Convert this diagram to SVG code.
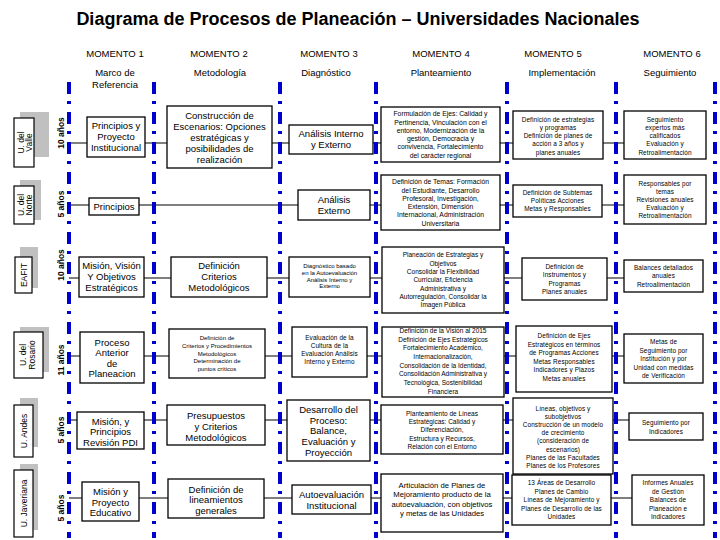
<svg xmlns="http://www.w3.org/2000/svg" width="720" height="540" viewBox="0 0 720 540">
<style>
text{font-family:"Liberation Sans",Arial,sans-serif;fill:#000}
.title{font-size:18px;font-weight:bold;text-anchor:middle}
.hd{font-size:9.5px;text-anchor:middle}
.n rect{fill:#fff;stroke:#000;stroke-width:1.3}
.n text{text-anchor:middle}
.f9{font-size:9.5px}
.f8{font-size:7.7px}
.f7{font-size:6.8px}
.f65{font-size:6.5px}
.f6{font-size:6.4px;letter-spacing:0.1px}
.f5{font-size:6px}
.lab rect.sh{fill:#c0c0c0;stroke:none}
.lab rect.bx{fill:#fff;stroke:#000;stroke-width:1.2}
.lab text{font-size:8.5px;text-anchor:middle}
.yr{font-size:6px;font-weight:bold;text-anchor:middle}
.bl{stroke:#0000cc;stroke-width:4;stroke-dasharray:12 7 3 8;fill:none}
.cn line{stroke:#000;stroke-width:1.2}
</style>
<rect width="720" height="540" fill="#fff"/>
<text class="title" x="358" y="25">Diagrama de Procesos de Planeación – Universidades Nacionales</text>

<g id="headers" class="hd">
<text x="115" y="57">MOMENTO 1</text>
<text x="115" y="76">Marco de</text>
<text x="115" y="88">Referencia</text>
<text x="219" y="57">MOMENTO 2</text>
<text x="220" y="76">Metodología</text>
<text x="329" y="57">MOMENTO 3</text>
<text x="326" y="76">Diagnóstico</text>
<text x="441" y="57">MOMENTO 4</text>
<text x="441" y="76">Planteamiento</text>
<text x="553" y="57">MOMENTO 5</text>
<text x="562" y="76">Implementación</text>
<text x="672" y="57">MOMENTO 6</text>
<text x="670" y="76">Seguimiento</text>
</g>

<g id="connectors" class="cn">
<line x1="69" y1="143" x2="624" y2="143"/>
<line x1="69" y1="205" x2="624" y2="205"/>
<line x1="69" y1="278" x2="624" y2="278"/>
<line x1="69" y1="356" x2="624" y2="356"/>
<line x1="69" y1="420" x2="629" y2="420"/>
<line x1="69" y1="498" x2="632" y2="498"/>
</g>

<g id="dividers">
<line class="bl" x1="69" y1="82" x2="69" y2="538"/>
<line class="bl" x1="154" y1="82" x2="154" y2="538"/>
<line class="bl" x1="280" y1="82" x2="280" y2="538"/>
<line class="bl" x1="376" y1="82" x2="376" y2="538"/>
<line class="bl" x1="507" y1="82" x2="507" y2="538"/>
<line class="bl" x1="616" y1="82" x2="616" y2="538"/>
<line class="bl" x1="715" y1="82" x2="715" y2="538"/>
</g>

<g id="lab-valle" class="lab">
<rect class="sh" x="20" y="112" width="29" height="45"/>
<rect class="bx" x="14" y="118" width="20" height="49"/>
<text transform="rotate(-90 23.5 142.5)" x="23.5" y="142.5">U. del</text>
<text transform="rotate(-90 31.5 142.5)" x="31.5" y="142.5">Valle</text>
<text class="yr" transform="rotate(-90 64 133)" x="64" y="133">10 años</text>
</g>
<g id="lab-norte" class="lab">
<rect class="sh" x="20" y="180" width="21" height="40"/>
<rect class="bx" x="14" y="186" width="20" height="38"/>
<text transform="rotate(-90 23.5 205)" x="23.5" y="205">U. del</text>
<text transform="rotate(-90 31.5 205)" x="31.5" y="205">Norte</text>
<text class="yr" transform="rotate(-90 64 204)" x="64" y="204">5 años</text>
</g>
<g id="lab-eafit" class="lab">
<rect class="sh" x="20" y="247" width="18" height="41"/>
<rect class="bx" x="15" y="257" width="17" height="36"/>
<text transform="rotate(-90 26.5 275)" x="26.5" y="275">EAFIT</text>
<text class="yr" transform="rotate(-90 64 265)" x="64" y="265">10 años</text>
</g>
<g id="lab-rosario" class="lab">
<rect class="sh" x="20" y="327" width="29" height="45"/>
<rect class="bx" x="14" y="332" width="29" height="46"/>
<text transform="rotate(-90 26 355)" x="26" y="355">U. del</text>
<text transform="rotate(-90 35 355)" x="35" y="355">Rosario</text>
<text class="yr" transform="rotate(-90 64 360)" x="64" y="360">11 años</text>
</g>
<g id="lab-andes" class="lab">
<rect class="sh" x="20" y="398" width="18" height="49"/>
<rect class="bx" x="14" y="405" width="19" height="52"/>
<text transform="rotate(-90 26.5 431)" x="26.5" y="431">U. Andes</text>
<text class="yr" transform="rotate(-90 64 430)" x="64" y="430">5 años</text>
</g>
<g id="lab-javeriana" class="lab">
<rect class="sh" x="20" y="464" width="18" height="66"/>
<rect class="bx" x="14" y="470" width="19" height="67"/>
<text transform="rotate(-90 26.5 503.5)" x="26.5" y="503.5">U. Javeriana</text>
<text class="yr" transform="rotate(-90 64 508)" x="64" y="508">5 años</text>
</g>

<!-- Row 1 -->
<g id="r1c1" class="n"><rect x="87" y="117" width="58" height="40"/>
<text class="f9"><tspan x="116" y="129.3">Principios y</tspan><tspan x="116" y="140.3">Proyecto</tspan><tspan x="116" y="151.3">Institucional</tspan></text></g>
<g id="r1c2" class="n"><rect x="167" y="106" width="105" height="62"/>
<text class="f9"><tspan x="219.5" y="119.3">Construcción de</tspan><tspan x="219.5" y="130.3">Escenarios: Opciones</tspan><tspan x="219.5" y="141.3">estratégicas y</tspan><tspan x="219.5" y="152.3">posibilidades de</tspan><tspan x="219.5" y="163.3">realización</tspan></text></g>
<g id="r1c3" class="n"><rect x="289" y="125" width="84" height="29"/>
<text class="f9"><tspan x="331" y="137.3">Análisis Interno</tspan><tspan x="331" y="148.3">y Externo</tspan></text></g>
<g id="r1c4" class="n"><rect x="381" y="107" width="119" height="55"/>
<text class="f7"><tspan x="440.5" y="116.2">Formulación de Ejes: Calidad y</tspan><tspan x="440.5" y="124.5">Pertinencia, Vinculación con el</tspan><tspan x="440.5" y="132.8">entorno, Modernización de la</tspan><tspan x="440.5" y="141.1">gestión, Democracia y</tspan><tspan x="440.5" y="149.4">convivencia, Fortalecimiento</tspan><tspan x="440.5" y="157.7">del carácter regional</tspan></text></g>
<g id="r1c5" class="n"><rect x="513" y="111" width="90" height="48"/>
<text class="f6"><tspan x="558" y="121.8">Definición de estrategias</tspan><tspan x="558" y="130">y programas</tspan><tspan x="558" y="138.2">Definición de planes de</tspan><tspan x="558" y="146.4">acción a 3 años y</tspan><tspan x="558" y="154.6">planes anuales</tspan></text></g>
<g id="r1c6" class="n"><rect x="624" y="111" width="82" height="48"/>
<text class="f6"><tspan x="665" y="121.8">Seguimiento</tspan><tspan x="665" y="130">expertos más</tspan><tspan x="665" y="138.2">calificados</tspan><tspan x="665" y="146.4">Evaluación y</tspan><tspan x="665" y="154.6">Retroalimentación</tspan></text></g>

<!-- Row 2 -->
<g id="r2c1" class="n"><rect x="89" y="198" width="50" height="17"/>
<text class="f9" x="114" y="209.8">Principios</text></g>
<g id="r2c3" class="n"><rect x="298" y="190" width="72" height="30"/>
<text class="f9"><tspan x="334" y="202.8">Análisis</tspan><tspan x="334" y="213.8">Externo</tspan></text></g>
<g id="r2c4" class="n"><rect x="381" y="175" width="119" height="55"/>
<text class="f7"><tspan x="440.5" y="184.2">Definición de Temas: Formación</tspan><tspan x="440.5" y="192.5">del Estudiante, Desarrollo</tspan><tspan x="440.5" y="200.8">Profesoral, Investigación,</tspan><tspan x="440.5" y="209.1">Extensión, Dimensión</tspan><tspan x="440.5" y="217.4">Internacional, Administración</tspan><tspan x="440.5" y="225.7">Universitaria</tspan></text></g>
<g id="r2c5" class="n"><rect x="513" y="185" width="89" height="32"/>
<text class="f6"><tspan x="557.5" y="195.2">Definición de Subtemas</tspan><tspan x="557.5" y="203.2">Políticas Acciones</tspan><tspan x="557.5" y="211.2">Metas y Responsables</tspan></text></g>
<g id="r2c6" class="n"><rect x="624" y="175" width="82" height="49"/>
<text class="f6"><tspan x="665" y="185.7">Responsables por</tspan><tspan x="665" y="193.7">temas</tspan><tspan x="665" y="201.7">Revisiones anuales</tspan><tspan x="665" y="209.7">Evaluación y</tspan><tspan x="665" y="217.7">Retroalimentación</tspan></text></g>

<!-- Row 3 -->
<g id="r3c1" class="n"><rect x="79" y="257" width="65" height="40"/>
<text class="f9"><tspan x="111.5" y="269.3">Misión, Visión</tspan><tspan x="111.5" y="280.3">Y Objetivos</tspan><tspan x="111.5" y="291.3">Estratégicos</tspan></text></g>
<g id="r3c2" class="n"><rect x="171" y="257" width="96" height="40"/>
<text class="f9"><tspan x="219" y="269.3">Definición</tspan><tspan x="219" y="280.3">Criterios</tspan><tspan x="219" y="291.3">Metodológicos</tspan></text></g>
<g id="r3c3" class="n"><rect x="289" y="257" width="81" height="40"/>
<text class="f5"><tspan x="329.5" y="267.9">Diagnóstico basado</tspan><tspan x="329.5" y="274.7">en la Autoevaluación</tspan><tspan x="329.5" y="281.5">Análisis Interno y</tspan><tspan x="329.5" y="288.3">Externo</tspan></text></g>
<g id="r3c4" class="n"><rect x="382" y="247" width="122" height="66"/>
<text class="f65"><tspan x="443" y="257.4">Planeación de Estrategias y</tspan><tspan x="443" y="265.7">Objetivos</tspan><tspan x="443" y="274">Consolidar la Flexibilidad</tspan><tspan x="443" y="282.3">Curricular, Eficiencia</tspan><tspan x="443" y="290.6">Administrativa y</tspan><tspan x="443" y="298.9">Autorregulación, Consolidar la</tspan><tspan x="443" y="307.2">Imagen Pública</tspan></text></g>
<g id="r3c5" class="n"><rect x="522" y="258" width="85" height="42"/>
<text class="f6"><tspan x="564.5" y="268.5">Definición de</tspan><tspan x="564.5" y="277">Instrumentos y</tspan><tspan x="564.5" y="285.5">Programas</tspan><tspan x="564.5" y="294">Planes anuales</tspan></text></g>
<g id="r3c6" class="n"><rect x="624" y="260" width="79" height="32"/>
<text class="f6"><tspan x="663.5" y="269.7">Balances detallados</tspan><tspan x="663.5" y="278.2">anuales</tspan><tspan x="663.5" y="286.7">Retroalimentación</tspan></text></g>

<!-- Row 4 -->
<g id="r4c1" class="n"><rect x="80" y="332" width="64" height="51"/>
<text class="f9"><tspan x="112" y="345.6">Proceso</tspan><tspan x="112" y="356.1">Anterior</tspan><tspan x="112" y="366.6">de</tspan><tspan x="112" y="377.1">Planeacion</tspan></text></g>
<g id="r4c2" class="n"><rect x="169" y="329" width="96" height="49"/>
<text class="f5"><tspan x="217" y="340">Definición de</tspan><tspan x="217" y="347.8">Criterios y Procedimientos</tspan><tspan x="217" y="355.6">Metodológicos</tspan><tspan x="217" y="363.4">Determinación de</tspan><tspan x="217" y="371.2">puntos críticos</tspan></text></g>
<g id="r4c3" class="n"><rect x="292" y="327" width="75" height="50"/>
<text class="f6"><tspan x="329.5" y="340.2">Evaluación de la</tspan><tspan x="329.5" y="348.2">Cultura de la</tspan><tspan x="329.5" y="356.2">Evaluación Análisis</tspan><tspan x="329.5" y="364.2">Interno y Externo</tspan></text></g>
<g id="r4c4" class="n"><rect x="382" y="327" width="122" height="70"/>
<text class="f65"><tspan x="443" y="332.9">Definición de la Visión al 2015</tspan><tspan x="443" y="341.6">Definición de Ejes Estratégicos</tspan><tspan x="443" y="350.3">Fortalecimiento Académico,</tspan><tspan x="443" y="359">Internacionalización,</tspan><tspan x="443" y="367.7">Consolidación de la Identidad,</tspan><tspan x="443" y="376.4">Consolidación Administrativa y</tspan><tspan x="443" y="385.1">Tecnológica, Sostenibilidad</tspan><tspan x="443" y="393.8">Financiera</tspan></text></g>
<g id="r4c5" class="n"><rect x="516" y="326" width="96" height="66"/>
<text class="f6"><tspan x="564" y="338">Definición de Ejes</tspan><tspan x="564" y="346.5">Estratégicos en términos</tspan><tspan x="564" y="355">de Programas Acciones</tspan><tspan x="564" y="363.5">Metas Responsables</tspan><tspan x="564" y="372">Indicadores y Plazos</tspan><tspan x="564" y="380.5">Metas anuales</tspan></text></g>
<g id="r4c6" class="n"><rect x="624" y="334" width="79" height="49"/>
<text class="f6"><tspan x="663.5" y="344.2">Metas de</tspan><tspan x="663.5" y="352.7">Seguimiento por</tspan><tspan x="663.5" y="361.2">Institución y por</tspan><tspan x="663.5" y="369.7">Unidad con medidas</tspan><tspan x="663.5" y="378.2">de Verificación</tspan></text></g>

<!-- Row 5 -->
<g id="r5c1" class="n"><rect x="77" y="412" width="67" height="37"/>
<text class="f9"><tspan x="110.5" y="424.8">Misión, y</tspan><tspan x="110.5" y="435.3">Principios</tspan><tspan x="110.5" y="445.8">Revisión PDI</tspan></text></g>
<g id="r5c2" class="n"><rect x="167" y="405" width="98" height="40"/>
<text class="f9"><tspan x="216" y="418.8">Presupuestos</tspan><tspan x="216" y="429.8">y Criterios</tspan><tspan x="216" y="440.8">Metodológicos</tspan></text></g>
<g id="r5c3" class="n"><rect x="287" y="400" width="83" height="61"/>
<text class="f9"><tspan x="328.5" y="412.9">Desarrollo del</tspan><tspan x="328.5" y="423.6">Proceso:</tspan><tspan x="328.5" y="434.3">Balance,</tspan><tspan x="328.5" y="445">Evaluación y</tspan><tspan x="328.5" y="455.7">Proyección</tspan></text></g>
<g id="r5c4" class="n"><rect x="381" y="405" width="122" height="49"/>
<text class="f65"><tspan x="442" y="415.9">Planteamiento de Líneas</tspan><tspan x="442" y="424.1">Estratégicas: Calidad y</tspan><tspan x="442" y="432.3">Diferenciación,</tspan><tspan x="442" y="440.5">Estructura y Recursos,</tspan><tspan x="442" y="448.7">Relación con el Entorno</tspan></text></g>
<g id="r5c5" class="n"><rect x="513" y="398" width="100" height="76"/>
<text class="f6"><tspan x="563" y="410.5">Líneas, objetivos y</tspan><tspan x="563" y="418.7">subobjetivos</tspan><tspan x="563" y="426.9">Construcción de un modelo</tspan><tspan x="563" y="435.1">de crecimiento</tspan><tspan x="563" y="443.3">(consideración de</tspan><tspan x="563" y="451.5">escenarios)</tspan><tspan x="563" y="459.7">Planes de las Facultades</tspan><tspan x="563" y="467.9">Planes de los Profesores</tspan></text></g>
<g id="r5c6" class="n"><rect x="629" y="413" width="74" height="27"/>
<text class="f6"><tspan x="666" y="425">Seguimiento por</tspan><tspan x="666" y="433.5">Indicadores</tspan></text></g>

<!-- Row 6 -->
<g id="r6c1" class="n"><rect x="82" y="482" width="57" height="39"/>
<text class="f9"><tspan x="110.5" y="495.3">Misión y</tspan><tspan x="110.5" y="505.8">Proyecto</tspan><tspan x="110.5" y="516.3">Educativo</tspan></text></g>
<g id="r6c2" class="n"><rect x="168" y="479" width="96" height="39"/>
<text class="f9"><tspan x="216" y="492.8">Definición de</tspan><tspan x="216" y="503.3">lineamientos</tspan><tspan x="216" y="513.8">generales</tspan></text></g>
<g id="r6c3" class="n"><rect x="292" y="485" width="79" height="29"/>
<text class="f9"><tspan x="331.5" y="497.8">Autoevaluación</tspan><tspan x="331.5" y="508.8">Institucional</tspan></text></g>
<g id="r6c4" class="n"><rect x="381" y="474" width="122" height="58"/>
<text class="f8"><tspan x="442" y="487.9">Articulación de Planes de</tspan><tspan x="442" y="497.2">Mejoramiento producto de la</tspan><tspan x="442" y="506.5">autoevaluación, con objetivos</tspan><tspan x="442" y="515.8">y metas de las Unidades</tspan></text></g>
<g id="r6c5" class="n"><rect x="512" y="475" width="99" height="50"/>
<text class="f6"><tspan x="561.5" y="485.4">13 Áreas de Desarrollo</tspan><tspan x="561.5" y="493.8">Planes de Cambio</tspan><tspan x="561.5" y="502.2">Líneas de Mejoramiento y</tspan><tspan x="561.5" y="510.6">Planes de Desarrollo de las</tspan><tspan x="561.5" y="519">Unidades</tspan></text></g>
<g id="r6c6" class="n"><rect x="632" y="475" width="72" height="50"/>
<text class="f6"><tspan x="668" y="485.4">Informes Anuales</tspan><tspan x="668" y="493.8">de Gestión</tspan><tspan x="668" y="502.2">Balances de</tspan><tspan x="668" y="510.6">Planeación e</tspan><tspan x="668" y="519">Indicadores</tspan></text></g>
</svg>
